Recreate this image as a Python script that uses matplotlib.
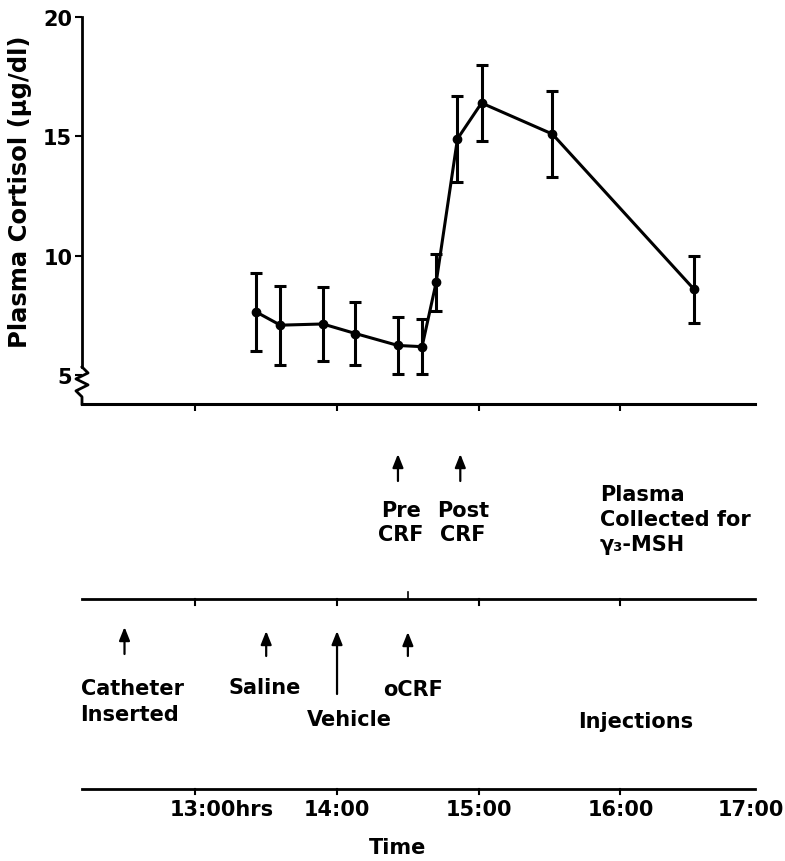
import matplotlib
matplotlib.use("Agg")
import matplotlib.pyplot as plt
from matplotlib.patches import ArrowStyle

plt.rcParams['font.family'] = ['DejaVu Sans']
plt.rcParams['font.weight'] = 'bold'

# ----------------------- data -----------------------
# sample times (decimal hours) and plasma cortisol, mean +/- sem
times = [13.43, 13.60, 13.90, 14.13, 14.43, 14.60, 14.70, 14.85, 15.02, 15.52, 16.52]
cortisol = [7.65, 7.10, 7.15, 6.75, 6.25, 6.20, 8.90, 14.90, 16.40, 15.10, 8.60]
sem = [1.65, 1.65, 1.55, 1.30, 1.20, 1.15, 1.20, 1.80, 1.60, 1.80, 1.40]

y_ticks = [5, 10, 15, 20]
hour_ticks = [13, 14, 15, 16, 17]
hour_labels = ["13:00hrs", "14:00", "15:00", "16:00", "17:00"]

# plasma collection (upper timeline)
collect_times = [14.43, 14.87]
collect_labels = ["Pre\nCRF", "Post\nCRF"]

# injections (lower timeline)
inject_times = [12.5, 13.5, 14.0, 14.5]
inject_labels = ["Catheter\nInserted", "Saline", "Vehicle", "oCRF"]

XMIN, XMAX = 12.2, 16.95

fig = plt.figure(figsize=(7.85, 8.62), dpi=100)

# ----------------------- cortisol plot -----------------------
ax = fig.add_axes([82/785, 1 - 405/862, 673/785, 387/862])
ax.errorbar(times, cortisol, yerr=sem, fmt='o-', color='black', ms=6, lw=2.2,
            elinewidth=2.2, capsize=4.5, capthick=2.2)
ax.set_xlim(XMIN, XMAX)
ax.set_ylim(3.8, 20)
for s in ['top', 'right']:
    ax.spines[s].set_visible(False)
ax.spines['left'].set_linewidth(2)
ax.spines['bottom'].set_linewidth(2.2)
ax.spines['left'].set_bounds(5.35, 20)
ax.set_yticks(y_ticks)
ax.set_yticklabels([str(v) for v in y_ticks], fontsize=15, fontweight='bold')
ax.set_xticks(hour_ticks[:-1])
ax.set_xticklabels([])
ax.tick_params(axis='both', direction='out', length=5, width=1.5, pad=2)

# axis break squiggle
tr = ax.get_yaxis_transform()
ax.plot([0, 0.009, -0.009, 0.009, -0.009, 0, 0],
        [5.35, 5.1, 4.85, 4.6, 4.35, 4.1, 3.8],
        color='black', lw=2, transform=tr, clip_on=False)

fig.text(20/785, 1 - 192/862, "Plasma Cortisol (\u03bcg/dl)", rotation=90,
         ha='center', va='center', fontsize=17.5, fontweight='bold')

# ----------------------- timelines -----------------------
ax2 = fig.add_axes([82/785, 0, 673/785, 1 - 405/862])
ax2.set_xlim(XMIN, XMAX)
ax2.set_ylim(862, 405)
ax2.axis('off')

arrow = ArrowStyle('-|>', head_length=0.5, head_width=0.2)

# upper: plasma collection
for t, lab in zip(collect_times, collect_labels):
    ax2.annotate('', xy=(t, 455), xytext=(t, 482),
                 arrowprops=dict(arrowstyle=arrow, color='black', lw=1.6,
                                 mutation_scale=16, shrinkA=0, shrinkB=0))
    ax2.text(t + 0.02, 523, lab, ha='center', va='center', fontsize=15,
             linespacing=1.3)
ax2.text(15.855, 520, "Plasma\nCollected for\n\u03b3\u2083-MSH", ha='left',
         va='center', fontsize=15, linespacing=1.3)

ax2.plot([XMIN, XMAX], [600, 600], color='black', lw=2, clip_on=False)
for t in hour_ticks[:-1]:
    ax2.plot([t, t], [600, 606], color='black', lw=1.5)
ax2.plot([14.5, 14.5], [600, 593], color='black', lw=1.2)

# lower: injections
tips = [628, 632, 632, 633]
tails = [655, 657, 695, 657]
for t, tip, tail in zip(inject_times, tips, tails):
    ax2.annotate('', xy=(t, tip), xytext=(t, tail),
                 arrowprops=dict(arrowstyle=arrow, color='black', lw=1.6,
                                 mutation_scale=16, shrinkA=0, shrinkB=0))
ax2.text(XMIN - 0.01, 702, inject_labels[0], ha='left', va='center',
         fontsize=15, linespacing=1.35)
ax2.text(13.49, 688, inject_labels[1], ha='center', va='center', fontsize=15)
ax2.text(14.09, 720, inject_labels[2], ha='center', va='center', fontsize=15)
ax2.text(14.54, 690, inject_labels[3], ha='center', va='center', fontsize=15)
ax2.text(16.11, 722, "Injections", ha='center', va='center', fontsize=15)

# time axis
ax2.plot([XMIN, XMAX], [790, 790], color='black', lw=2, clip_on=False)
for t in hour_ticks[:-1]:
    ax2.plot([t, t], [790, 795], color='black', lw=1.5, clip_on=False)
ax2.text(12.82, 810, hour_labels[0], ha='left', va='center', fontsize=15)
for t, lab in zip(hour_ticks[1:-1], hour_labels[1:-1]):
    ax2.text(t, 810, lab, ha='center', va='center', fontsize=15)
# last label sits at the end of the line, as in the original
ax2.annotate(hour_labels[-1], xy=(hour_ticks[-1], 810), xytext=(-8, 0),
             textcoords='offset points', ha='center', va='center', fontsize=15,
             annotation_clip=False)
ax2.text(14.43, 848, "Time", ha='center', va='center', fontsize=15)

fig.savefig("out.png", dpi=100)
